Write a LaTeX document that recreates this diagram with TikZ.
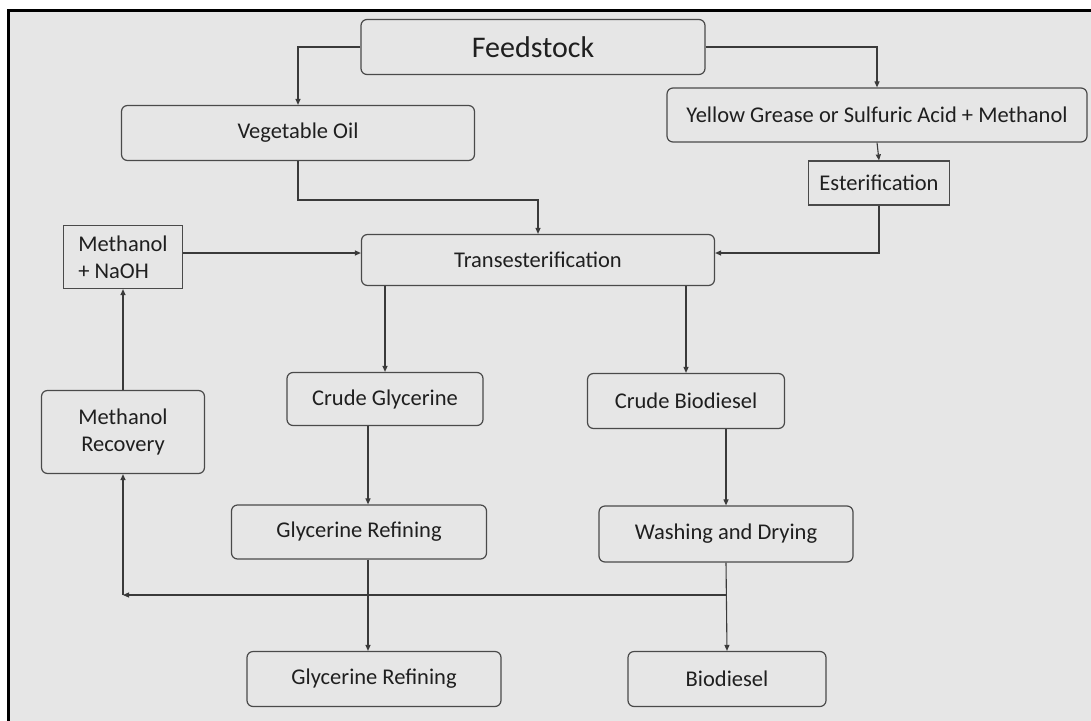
\documentclass[tikz,border=0pt]{standalone}
\usepackage{fontspec}
\setmainfont{Carlito}
\usetikzlibrary{arrows.meta}
\definecolor{bggray}{HTML}{E6E6E6}
\definecolor{linegray}{HTML}{3A3A3A}
\definecolor{boxline}{HTML}{4A4A4A}
\begin{document}
\begin{tikzpicture}[x=1pt,y=-1pt,
  rbox/.style={draw=boxline,line width=1.2pt,rounded corners=6pt,fill=bggray,inner sep=0pt,
    font=\fontsize{22.5}{27}\selectfont,text=black!88},
  sbox/.style={rbox,rounded corners=0pt},
  arr/.style={draw=linegray,line width=1.1pt,-{Triangle[length=6pt,width=5pt]}}]
\useasboundingbox (0,0) rectangle (1091,720);
\clip (0,0) rectangle (1091,720);
\fill[white] (0,0) rectangle (1091,720);
\draw[line width=3pt,fill=bggray] (8.5,10) rectangle (1100,730);
% nodes
\node[rbox,minimum width=344pt,minimum height=55pt,font=\fontsize{30}{36}\selectfont] (feed) at (533,47) {Feedstock};
\node[rbox,minimum width=353pt,minimum height=55pt] (veg) at (298,133) {Vegetable Oil};
\node[rbox,minimum width=420pt,minimum height=54pt] (yg) at (877,115) {Yellow Grease or Sulfuric Acid + Methanol};
\node[sbox,minimum width=141pt,minimum height=44pt] (est) at (879,183) {Esterification};
\node[sbox,minimum width=119pt,minimum height=63pt,align=left] (meth) at (123,257) {Methanol\\+ NaOH};
\node[rbox,minimum width=353pt,minimum height=51pt] (trans) at (538,260) {Transesterification};
\node[rbox,minimum width=163pt,minimum height=83pt,align=center] (mr) at (123,432) {Methanol\\Recovery};
\node[rbox,minimum width=196pt,minimum height=53pt] (cg) at (385,399) {Crude Glycerine};
\node[rbox,minimum width=197pt,minimum height=55pt] (cb) at (686,401) {Crude Biodiesel};
\node[rbox,minimum width=255pt,minimum height=54pt] (gr1) at (359,532) {Glycerine Refining};
\node[rbox,minimum width=254pt,minimum height=56pt] (wd) at (726,534) {Washing and Drying};
\node[rbox,minimum width=254pt,minimum height=55pt] (gr2) at (374,679) {Glycerine Refining};
\node[rbox,minimum width=198pt,minimum height=55pt] (bio) at (727,679) {Biodiesel};
% helper coordinates
\coordinate (gx) at (368,0);
\coordinate (vy) at (0,200);
\coordinate (jy) at (0,595);
\coordinate (ay) at (0,253);
% connectors
\draw[arr] (feed.west) -| (veg.north);
\draw[arr] (feed.east) -| (yg.north);
\draw[arr] (yg.south) -- (est.north);
\draw[arr] (veg.south) -- (veg.south |- vy) -| (trans.north);
\draw[arr] (est.south) |- (trans.east |- ay);
\draw[arr] (meth.east |- ay) -- (trans.west |- ay);
\draw[arr] (cg.north |- trans.south) -- (cg.north);
\draw[arr] (cb.north |- trans.south) -- (cb.north);
\draw[arr] (cg.south -| gx) -- (gr1.north -| gx);
\draw[arr] (gr1.south -| gx) -- (gr2.north -| gx);
\draw[arr] (cb.south -| wd.north) -- (wd.north);
\draw[arr] (wd.south) -- (bio.north);
\coordinate (j) at (wd.south |- jy);
\coordinate (corner) at (mr.south |- jy);
\draw[arr] (j) -- (corner);
\draw[arr] (corner) -- (mr.south);
\draw[arr] (mr.north) -- (meth.south);
\end{tikzpicture}
\end{document}
